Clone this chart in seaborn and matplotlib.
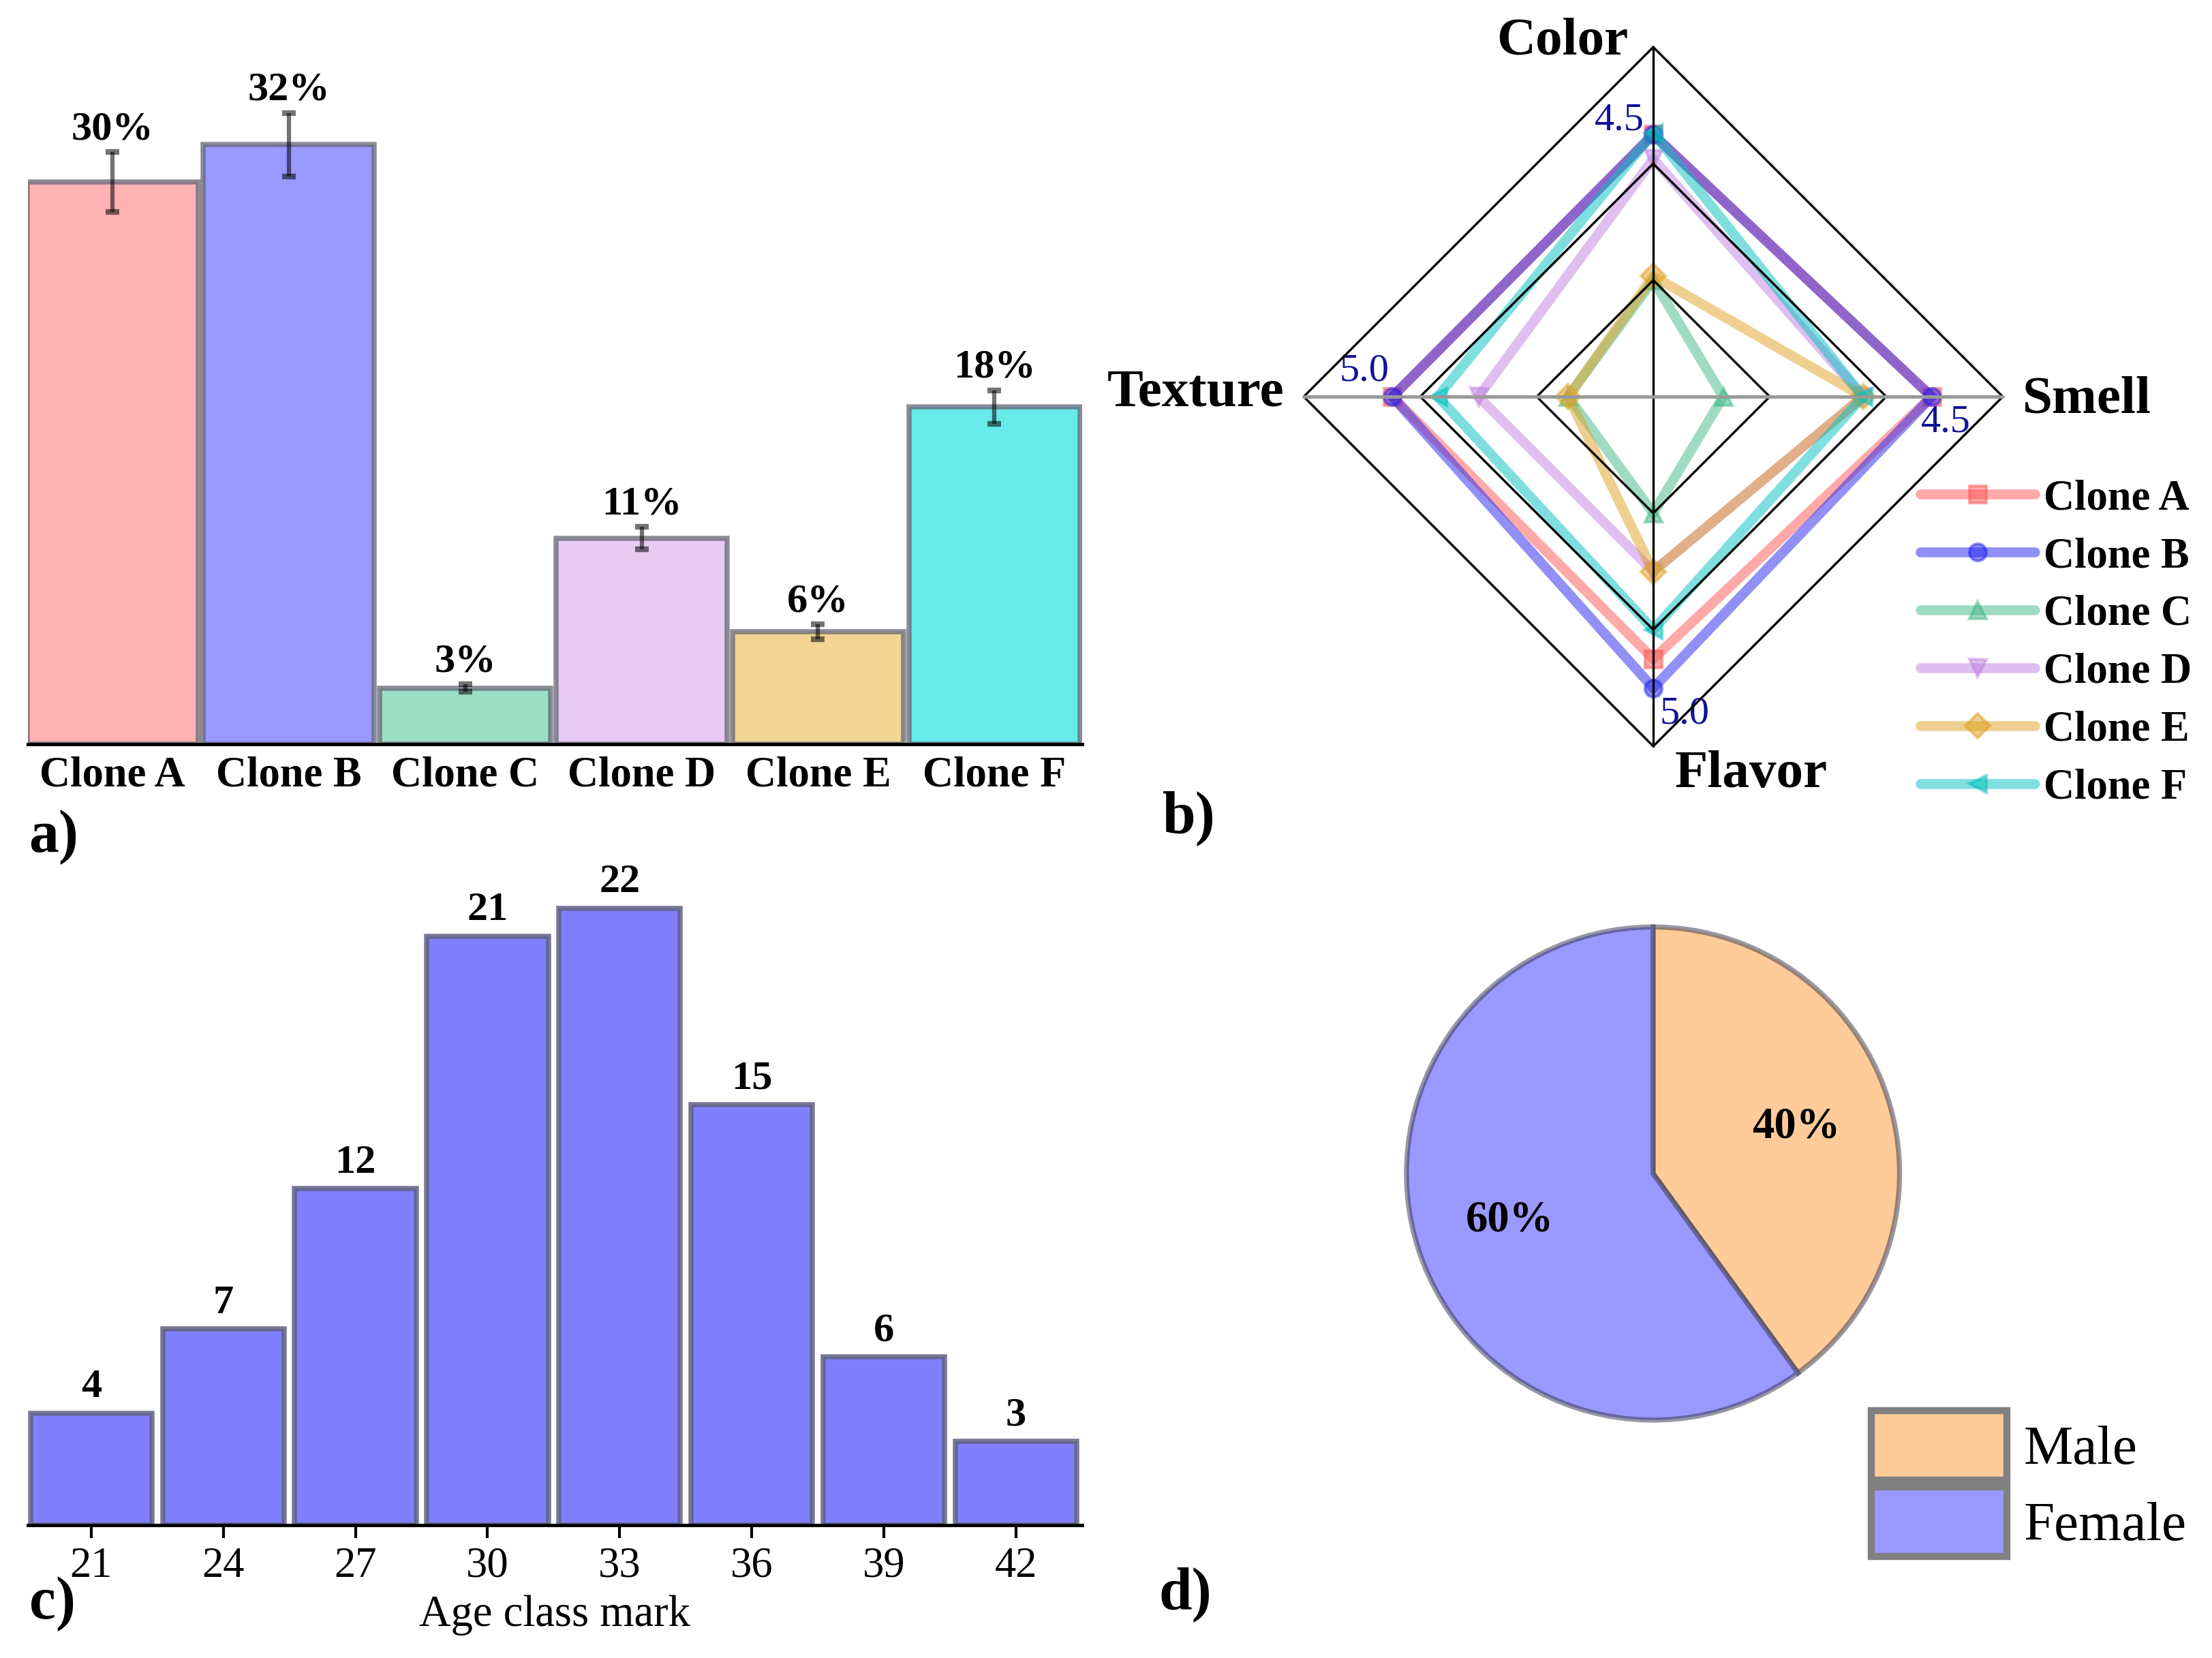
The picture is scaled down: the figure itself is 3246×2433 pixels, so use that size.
import numpy as np
import pandas as pd
import matplotlib
matplotlib.use("Agg")
import matplotlib.pyplot as plt
from matplotlib.patches import Patch
import seaborn as sns

# -------------------------------
# Data
# -------------------------------
clones = ["Clone A", "Clone B", "Clone C", "Clone D", "Clone E", "Clone F"]
acceptance = [30, 32, 3, 11, 6, 18]
acceptance_err = [1.6, 1.7, 0.2, 0.6, 0.4, 0.9]
bar_colors = ["#FFB3B3", "#9999FF", "#9ADFC6", "#E8CBF3", "#F2D595", "#66EAEA"]

attributes = ["Color", "Smell", "Flavor", "Texture"]
axis_max = [6.0, 5.65, 6.0, 6.7]
score_a = [4.5, 4.5, 4.5, 5.0]
score_b = [4.5, 4.5, 5.0, 5.0]
score_c = [2.0, 1.13, 2.0, 1.63]
score_d = [4.08, 3.39, 3.0, 3.35]
score_e = [2.07, 3.39, 3.0, 1.63]
score_f = [4.53, 3.39, 4.0, 4.13]
radar_colors = ["#FF5555", "#2222EE", "#41B989", "#C181E1", "#E1A121", "#00C1C1"]
radar_markers = ["s", "o", "^", "v", "D", "<"]

age_marks = ["21", "24", "27", "30", "33", "36", "39", "42"]
age_counts = [4, 7, 12, 21, 22, 15, 6, 3]

gender = ["Male", "Female"]
gender_pct = [40, 60]
gender_colors = ["#FFCC99", "#9999FF"]

# -------------------------------
# Setup
# -------------------------------
sns.set_theme(style="white")
plt.rcParams["font.family"] = ["Liberation Serif", "DejaVu Serif"]
plt.rcParams.update({"text.color": "black", "axes.labelcolor": "black",
                     "xtick.color": "black", "ytick.color": "black"})

fig = plt.figure(figsize=(10.82, 8.11), dpi=300)

# -------------------------------
# a) acceptance per clone
# -------------------------------
ax_a = fig.add_axes([0.0126, 0.551, 0.4765, 0.408])
df_a = pd.DataFrame({"clone": clones, "pct": acceptance})
sns.barplot(data=df_a, x="clone", y="pct", hue="clone",
            palette=dict(zip(clones, bar_colors)), width=0.97, saturation=1,
            edgecolor=(0.4, 0.4, 0.45, 0.75), linewidth=1.8, legend=False, ax=ax_a)
ax_a.errorbar(range(len(clones)), acceptance, yerr=acceptance_err, fmt="none",
              ecolor="black", alpha=0.55, elinewidth=1.5, capsize=2.5, capthick=2)
for i, (v, e) in enumerate(zip(acceptance, acceptance_err)):
    ax_a.annotate(f"{v}%", (i, v + e), xytext=(0, 1.5), textcoords="offset points",
                  ha="center", va="bottom", fontsize=14.5, fontweight="bold")
ax_a.set_xlim(-0.48, 5.496)
ax_a.set_ylim(0, 36.1)
ax_a.set_xlabel("")
ax_a.set_ylabel("")
ax_a.set_yticks([])
sns.despine(ax=ax_a, left=True)
ax_a.spines["bottom"].set_color("black")
ax_a.spines["bottom"].set_linewidth(1.2)
ax_a.tick_params(axis="x", length=0, pad=4, labelsize=15)
for t in ax_a.get_xticklabels():
    t.set_fontweight("bold")

# -------------------------------
# b) sensory radar
# -------------------------------
ax_b = fig.add_axes([0.5749, 0.5306, 0.3450, 0.4603])
lim = 560 / 513
ax_b.set_xlim(-lim, lim)
ax_b.set_ylim(-lim, lim)
ax_b.axis("off")

dirs = np.array([[0, 1], [1, 0], [0, -1], [-1, 0]])
for level in [1 / 3, 2 / 3, 1]:
    ring = np.vstack([dirs, dirs[:1]]) * level
    ax_b.plot(ring[:, 0], ring[:, 1], color="black", lw=0.8, zorder=5)
ax_b.plot([0, 0], [-1, 1], color="black", lw=0.8, zorder=5)
ax_b.plot([-1, 1], [0, 0], color="#999999", lw=1.2, zorder=5)

scores = [score_a, score_b, score_c, score_d, score_e, score_f]
handles = []
for name, vals, col, mk in zip(clones, scores, radar_colors, radar_markers):
    r = np.array(vals) / np.array(axis_max)
    pts = dirs * r[:, None]
    pts = np.vstack([pts, pts[:1]])
    ln, = ax_b.plot(pts[:, 0], pts[:, 1], color=col, alpha=0.5, lw=3.5,
                    marker=mk, ms=6, markevery=[0, 1, 2, 3],
                    solid_capstyle="round", solid_joinstyle="miter", label=name)
    handles.append(ln)

# value labels of Clone B
r_b = np.array(score_b) / np.array(axis_max)
offsets = [(-12, 5), (5, -9), (11, -9), (-10, 9)]
for k, (v, off) in enumerate(zip(score_b, offsets)):
    px, py = dirs[k] * r_b[k]
    ax_b.annotate(f"{v:.1f}", (px, py), xytext=off, textcoords="offset points",
                  ha="center", va="center", fontsize=14, color="#10109A")

label_pos = [(-0.26, 1.016), (1.24, -0.01), (0.28, -1.08), (-1.31, 0.01)]
for name, (tx, ty) in zip(attributes, label_pos):
    ax_b.text(tx, ty, name, ha="center", va="center", fontsize=19, fontweight="bold")

fig.legend(handles=handles, loc="upper left", bbox_to_anchor=(0.868, 0.711),
           frameon=False, prop={"size": 15, "weight": "bold"}, handlelength=2.7,
           handletextpad=0.2, labelspacing=0.43, borderpad=0, borderaxespad=0)

# -------------------------------
# c) age distribution
# -------------------------------
ax_c = fig.add_axes([0.0126, 0.080, 0.4765, 0.4095])
sns.barplot(x=age_marks, y=age_counts, order=age_marks, color="#8080FF",
            width=0.92, saturation=1, edgecolor=(0.38, 0.38, 0.5, 0.85),
            linewidth=1.8, ax=ax_c)
for i, v in enumerate(age_counts):
    ax_c.annotate(str(v), (i, v), xytext=(0, 2.5), textcoords="offset points",
                  ha="center", va="bottom", fontsize=14.5, fontweight="bold")
ax_c.set_xlim(-0.48, 7.5)
ax_c.set_ylim(0, 24.2)
ax_c.set_yticks([])
ax_c.set_ylabel("")
ax_c.set_xlabel("Age class mark", fontsize=15.5, labelpad=3)
sns.despine(ax=ax_c, left=True)
ax_c.spines["bottom"].set_color("black")
ax_c.spines["bottom"].set_linewidth(1.2)
ax_c.tick_params(axis="x", bottom=True, length=4.5, width=1, color="black",
                 direction="out", pad=3, labelsize=15)

# -------------------------------
# d) gender pie
# -------------------------------
ax_d = fig.add_axes([0.6247, 0.1286, 0.2452, 0.3272])
wedges, texts, autotexts = ax_d.pie(
    gender_pct, colors=gender_colors, startangle=90, counterclock=False,
    autopct="%d%%", pctdistance=0.61,
    wedgeprops=dict(edgecolor=(0.2, 0.2, 0.3, 0.5), linewidth=1.8),
    textprops=dict(fontsize=15.5, fontweight="bold"))
ax_d.set_xlim(-1.1, 1.1)
ax_d.set_ylim(-1.1, 1.1)
ax_d.set_aspect("equal")

pie_handles = [Patch(facecolor=c, edgecolor="#808080", linewidth=2.5, label=g)
               for g, c in zip(gender, gender_colors)]
fig.legend(handles=pie_handles, loc="upper left", bbox_to_anchor=(0.846, 0.149),
           frameon=False, fontsize=19.5, handlelength=2.45, handleheight=1.55,
           handletextpad=0.3, labelspacing=0.12, borderpad=0, borderaxespad=0)

# -------------------------------
# panel letters
# -------------------------------
for letter, (lx, ly) in zip(["a)", "b)", "c)", "d)"],
                            [(0.0243, 0.495), (0.5376, 0.5064),
                             (0.0236, 0.0326), (0.5357, 0.0386)]):
    fig.text(lx, ly, letter, ha="center", va="center", fontsize=21, fontweight="bold")

fig.savefig("out.png", dpi=300)
